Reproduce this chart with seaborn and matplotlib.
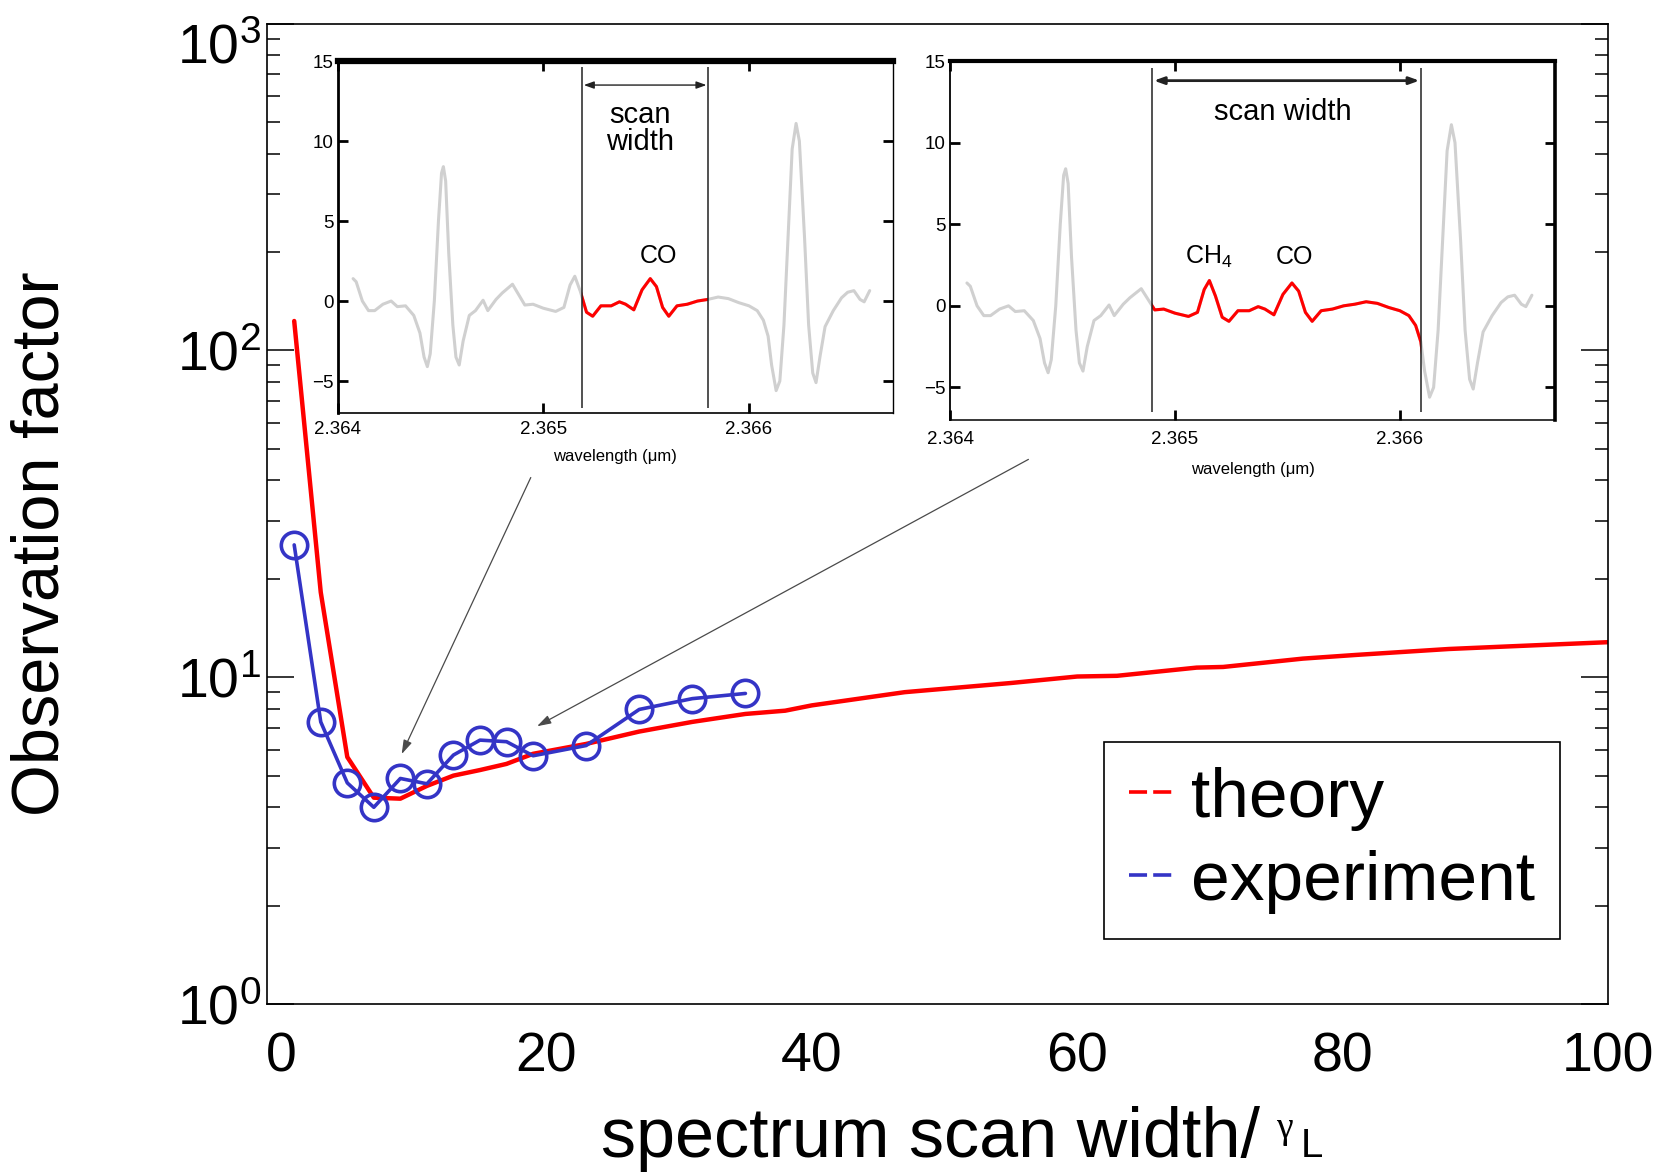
import numpy as np
import matplotlib
matplotlib.use("Agg")
import matplotlib.pyplot as plt
import seaborn as sns
from matplotlib.lines import Line2D
from matplotlib.patches import Rectangle
from matplotlib.ticker import LogLocator, NullFormatter

# ---------------- main panel data ----------------
theory_x = [1, 3, 5, 7, 9, 11, 13, 15, 17, 19, 23, 27, 31, 35, 38, 40, 47, 55,
            60, 63, 69, 71, 77, 81, 88, 92, 100]
theory_y = [123, 18.2, 5.7, 4.28, 4.25, 4.65, 5.0, 5.2, 5.43, 5.83, 6.25, 6.82,
            7.3, 7.72, 7.9, 8.2, 9.0, 9.6, 10.05, 10.1, 10.7, 10.75, 11.4, 11.7,
            12.2, 12.4, 12.8]

exp_x = [1, 3, 5, 7, 9, 11, 13, 15, 17, 19, 23, 27, 31, 35]
exp_y = [25.4, 7.3, 4.75, 4.0, 4.9, 4.72, 5.78, 6.42, 6.35, 5.75, 6.18, 7.97,
         8.6, 8.92]

x_ticks = [0, 20, 40, 60, 80, 100]
x_inner_ticks = [20, 40, 60, 80]
y_ticks = [1, 10, 100, 1000]
legend_labels = ["theory", "experiment"]

# ---------------- inset spectrum data ----------------
spec_wl = [2.364075, 2.36409, 2.36412, 2.36415, 2.36418, 2.36422, 2.36426,
           2.36429, 2.36433, 2.36437, 2.36440, 2.36442, 2.364436, 2.36445,
           2.36447, 2.36449, 2.364505, 2.364514, 2.364525, 2.36454, 2.36456,
           2.364575, 2.364591, 2.36461, 2.36464, 2.36467, 2.364707, 2.36473,
           2.36477, 2.36480, 2.36485, 2.36488, 2.36491, 2.36495, 2.36500,
           2.36506, 2.36510, 2.36513, 2.365153, 2.36518, 2.36521, 2.36524,
           2.36528, 2.36533, 2.36537, 2.36540, 2.36544, 2.36548, 2.36552,
           2.36555, 2.36558, 2.36561, 2.36565, 2.36570, 2.36575, 2.36580,
           2.36585, 2.36590, 2.36595, 2.36600, 2.36604, 2.36607, 2.366093,
           2.36611, 2.366132, 2.36615, 2.36617, 2.36619, 2.36621, 2.366229,
           2.366245, 2.36627, 2.36629, 2.36631, 2.366326, 2.366345, 2.36637,
           2.36641, 2.36645, 2.36648, 2.36651, 2.36654, 2.36656, 2.366587]
spec_val = [1.4, 1.2, 0.0, -0.6, -0.6, -0.2, 0.0, -0.35, -0.3, -0.9, -2.0, -3.5,
            -4.1, -3.3, 0.0, 5.0, 8.0, 8.4, 7.5, 3.0, -1.5, -3.5, -4.0, -2.5,
            -0.9, -0.6, 0.05, -0.6, 0.1, 0.5, 1.05, 0.4, -0.25, -0.2, -0.45,
            -0.65, -0.4, 1.0, 1.55, 0.6, -0.7, -0.95, -0.3, -0.3, -0.05, -0.2,
            -0.55, 0.7, 1.4, 0.9, -0.4, -0.95, -0.3, -0.2, 0.0, 0.1, 0.25, 0.15,
            -0.1, -0.3, -0.6, -1.2, -2.2, -4.0, -5.6, -5.0, -1.5, 4.0, 9.5,
            11.1, 10.0, 4.0, -1.5, -4.5, -5.1, -3.5, -1.6, -0.6, 0.2, 0.55,
            0.65, 0.1, -0.05, 0.65]

inset_xticks = [2.364, 2.365, 2.366]
inset_xticklabels = ["2.364", "2.365", "2.366"]
inset_yticks = [-5, 0, 5, 10, 15]
window_co = (2.36519, 2.36580)
window_ch4_co = (2.36490, 2.366093)

BLUE = "#3434c6"
RED = "#ff0000"
GRAY = "#d0d0d0"

sns.set_theme(style="ticks")
plt.rcParams["font.family"] = ["Liberation Sans", "DejaVu Sans"]
plt.rcParams["mathtext.default"] = "regular"
for key in ("text.color", "axes.labelcolor", "xtick.color", "ytick.color",
            "axes.edgecolor"):
    plt.rcParams[key] = "black"

fig = plt.figure(figsize=(16.75, 11.72), dpi=100)
ax = fig.add_axes([0.1594, 0.1433, 0.8006, 0.8366])

sns.lineplot(x=theory_x, y=theory_y, ax=ax, color=RED, lw=3.2,
             sort=False, estimator=None, zorder=2)
sns.lineplot(x=exp_x, y=exp_y, ax=ax, color=BLUE, lw=2.6, marker="o",
             markersize=19, markerfacecolor="none", markeredgecolor=BLUE,
             markeredgewidth=2.6, sort=False, estimator=None, zorder=3)

ax.set_yscale("log")
ax.set_ylim(1, 1000)
ax.set_xlim(-1.05, 100)
ax.set_xticks(x_ticks)
ax.set_xticks(x_inner_ticks, minor=True)
ax.set_yticks(y_ticks)
ax.yaxis.set_minor_locator(LogLocator(base=10, subs=np.arange(2, 10)))
ax.yaxis.set_minor_formatter(NullFormatter())
ax.tick_params(which="both", direction="in", top=True, right=True,
               colors="black", width=1.1, labelsize=40)
ax.tick_params(axis="y", which="major", length=19.5, pad=4)
ax.tick_params(axis="y", which="minor", length=9.5)
ax.tick_params(axis="x", which="major", length=0, pad=20)
ax.tick_params(axis="x", which="minor", length=19.5)
for s in ax.spines.values():
    s.set_color("black")
    s.set_linewidth(1.2)
# the top decade label sits just below the frame corner
ax.get_yticklabels()[-1].set_va("top")

ax.set_ylabel("Observation factor", fontsize=48)
ax.yaxis.set_label_coords(-0.145, 0.47)
ax.set_xlabel("spectrum scan width/", fontsize=50.5)
ax.xaxis.set_label_coords(0.495, -0.104)
ax.annotate("γ", xy=(1, 0), xycoords=ax.xaxis.label, xytext=(16, 34),
            textcoords="offset pixels", fontsize=27, ha="left", va="baseline",
            family=["Liberation Serif", "DejaVu Serif"])
ax.annotate("L", xy=(1, 0), xycoords=ax.xaxis.label, xytext=(40, 15),
            textcoords="offset pixels", fontsize=29, ha="left", va="baseline")

handles = [Line2D([], [], color=RED, lw=2.6, dashes=(5.0, 1.7)),
           Line2D([], [], color=BLUE, lw=2.6, dashes=(5.0, 1.7))]
leg = ax.legend(handles, legend_labels, loc="upper right",
                bbox_to_anchor=(0.9642, 0.2675), borderaxespad=0,
                fontsize=50, handlelength=0.62, handletextpad=0.27,
                borderpad=0.36, labelspacing=0.27, frameon=True,
                fancybox=False, edgecolor="black", framealpha=1)
leg.get_frame().set_linewidth(1.2)

arrow_kw = dict(arrowstyle="-|>,head_length=0.7,head_width=0.22",
                color="#4a4a4a", lw=0.9, shrinkA=0, shrinkB=0)
ax.annotate("", xy=(9.1, 5.82), xycoords="data", xytext=(0.1967, 0.537),
            textcoords="axes fraction", arrowprops=arrow_kw)
ax.annotate("", xy=(19.3, 7.08), xycoords="data", xytext=(0.5678, 0.5555),
            textcoords="axes fraction", arrowprops=arrow_kw)


def draw_inset(rect, xlim, window, spine_w, arrow_y, arrow_lw, line_ylim,
               tick_pad, label_pad):
    iax = fig.add_axes(rect)
    iax.set_facecolor("white")
    sns.lineplot(x=spec_wl, y=spec_val, ax=iax, color=GRAY, lw=2.2,
                 sort=False, estimator=None, solid_joinstyle="round")
    sns.lineplot(x=spec_wl, y=spec_val, ax=iax, color=RED, lw=2.2,
                 sort=False, estimator=None, solid_joinstyle="round")
    clip = Rectangle((window[0], -20), window[1] - window[0], 40,
                     transform=iax.transData)
    iax.lines[-1].set_clip_path(clip)
    iax.vlines(list(window), line_ylim[0], line_ylim[1], color="#222222",
               lw=1.1)
    iax.annotate("", xy=(window[1], arrow_y), xytext=(window[0], arrow_y),
                 arrowprops=dict(arrowstyle="<|-|>,head_length=0.5,head_width=0.18",
                                 color="#222222", lw=arrow_lw,
                                 shrinkA=1, shrinkB=1))
    iax.set_xlim(*xlim)
    iax.set_ylim(-7, 15)
    iax.set_xticks(inset_xticks, inset_xticklabels)
    iax.set_yticks(inset_yticks)
    iax.tick_params(direction="in", top=True, right=True, length=7, width=2,
                    labelsize=13.5, colors="black")
    iax.tick_params(axis="x", pad=tick_pad)
    iax.tick_params(axis="y", pad=3)
    iax.set_xlabel("wavelength (μm)", fontsize=12, labelpad=label_pad)
    iax.set_ylabel("")
    for side, w in spine_w.items():
        iax.spines[side].set_color("black")
        iax.spines[side].set_linewidth(w)
    return iax


ins1 = draw_inset([0.2016, 0.6476, 0.3315, 0.3003], (2.364, 2.3667), window_co,
                  {"top": 4.5, "left": 2.0, "bottom": 1.2, "right": 1.0},
                  13.5, 1.0, (-6.7, 14.6), 6, 8)
ins1.text(2.36547, 10.8, "scan\nwidth", fontsize=21, ha="center", va="center",
          linespacing=0.95)
ins1.text(2.36556, 2.8, "CO", fontsize=18, ha="center", va="center")

ins2 = draw_inset([0.5672, 0.6416, 0.3612, 0.3063], (2.364, 2.36669),
                  window_ch4_co,
                  {"top": 3.0, "left": 1.3, "bottom": 1.1, "right": 2.6},
                  13.8, 2.0, (-6.5, 14.6), 8, 10)
ins2.text(2.36548, 11.9, "scan width", fontsize=21, ha="center", va="center")
ins2.text(2.36515, 3.0, "CH$_4$", fontsize=18, ha="center", va="center")
ins2.text(2.36553, 3.0, "CO", fontsize=18, ha="center", va="center")

fig.savefig("out.png", dpi=100, facecolor="white")
